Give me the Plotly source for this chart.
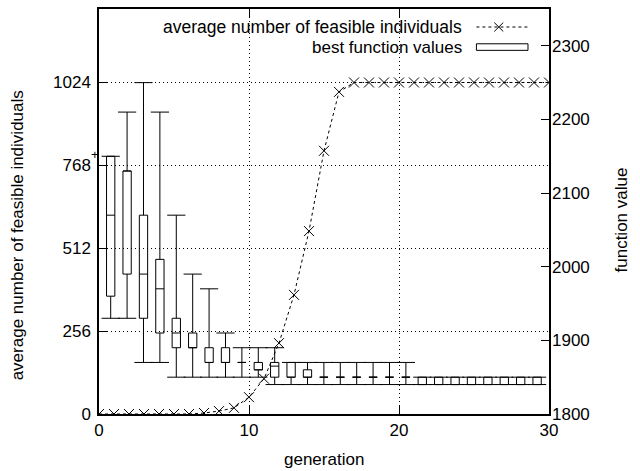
import plotly.graph_objects as go

# ---------------- data ----------------
generations = list(range(31))
avg_feasible = [0, 0, 0, 0, 0, 0, 0, 3, 9, 19, 52, 109, 219, 368, 565, 813, 995,
                1024, 1024, 1024, 1024, 1024, 1024, 1024, 1024, 1024, 1024, 1024, 1024, 1024, 1024]

box_index = list(range(1, 28))
whisker_high = [2150, 2210, 2250, 2210, 2070, 1990, 1970, 1910, 1890, 1890, 1890, 1870, 1870,
                1870, 1870, 1870, 1870, 1870, 1870,
                1850, 1850, 1850, 1850, 1850, 1850, 1850, 1850]
box_high = [2150, 2130, 2070, 2010, 1930, 1910, 1890, 1890, 1870, 1870, 1870, 1870, 1860,
            1850, 1850, 1850, 1850, 1850, 1850,
            1850, 1850, 1850, 1850, 1850, 1850, 1850, 1850]
box_median = [2070, 2130, 1990, 1970, 1910, 1890, 1870, 1870, 1870, 1860, 1865, 1850, 1850,
              1850, 1850, 1850, 1850, 1850, 1850,
              1840, 1840, 1840, 1840, 1840, 1840, 1840, 1840]
box_low = [1960, 1990, 1930, 1910, 1890, 1890, 1870, 1870, 1870, 1860, 1850, 1850, 1850,
           1850, 1850, 1850, 1850, 1850, 1850,
           1840, 1840, 1840, 1840, 1840, 1840, 1840, 1840]
whisker_low = [1930, 1930, 1870, 1870, 1850, 1850, 1850, 1850, 1850, 1850, 1840, 1840, 1840,
               1840, 1840, 1840, 1840, 1840, 1840,
               1840, 1840, 1840, 1840, 1840, 1840, 1840, 1840]

x_ticks = [0, 10, 20, 30]
y_ticks = [0, 256, 512, 768, 1024]
y2_ticks = [1800, 1900, 2000, 2100, 2200, 2300]

# ---------------- style ----------------
FONT = "Liberation Sans, Arial, Helvetica, sans-serif"
BOX_HALF = 0.253
CAP_HALF = 0.555

# build candlestick geometry (data units of x2/y2)
box_x, box_y = [], []
for j, hi, lo in zip(box_index, box_high, box_low):
    box_x += [j - BOX_HALF, j + BOX_HALF, j + BOX_HALF, j - BOX_HALF, j - BOX_HALF, None]
    box_y += [lo, lo, hi, hi, lo, None]

wh_x, wh_y = [], []
for j, wmax, hi, lo, wmin in zip(box_index, whisker_high, box_high, box_low, whisker_low):
    wh_x += [j, j, None, j - CAP_HALF, j + CAP_HALF, None]
    wh_y += [hi, wmax, None, wmax, wmax, None]
    wh_x += [j, j, None, j - CAP_HALF, j + CAP_HALF, None]
    wh_y += [lo, wmin, None, wmin, wmin, None]

med_x, med_y = [], []
for j, m in zip(box_index, box_median):
    med_x += [j - BOX_HALF, j + BOX_HALF, None]
    med_y += [m, m, None]

fig = go.Figure()
fig.add_trace(go.Scatter(
    x=generations, y=avg_feasible, mode="lines+markers",
    name="average number of feasible individuals",
    line=dict(color="black", width=1, dash="3px,3px"),
    marker=dict(symbol="x-thin", size=10, line=dict(color="black", width=1)),
    xaxis="x", yaxis="y"))
fig.add_trace(go.Scatter(x=wh_x, y=wh_y, mode="lines", line=dict(color="black", width=1),
                         xaxis="x2", yaxis="y2", hoverinfo="skip"))
fig.add_trace(go.Scatter(x=box_x, y=box_y, mode="lines", line=dict(color="black", width=1),
                         xaxis="x2", yaxis="y2", name="best function values"))
fig.add_trace(go.Scatter(x=med_x, y=med_y, mode="lines", line=dict(color="black", width=1),
                         xaxis="x2", yaxis="y2", hoverinfo="skip"))

axis_common = dict(ticks="inside", tickcolor="black", tickwidth=1, zeroline=False,
                   tickfont=dict(family=FONT, size=17, color="black"))

fig.update_layout(
    width=640, height=471,
    margin=dict(l=99, r=91, t=7, b=57),
    paper_bgcolor="white", plot_bgcolor="white",
    font=dict(family=FONT, size=17, color="black"),
    showlegend=False,
    xaxis=dict(range=[0, 30], tickvals=x_ticks, ticklen=9, showline=True, linecolor="black",
               linewidth=1.5, mirror="ticks", showgrid=True, gridcolor="black", gridwidth=1,
               griddash="1px,3px", **axis_common),
    xaxis2=dict(overlaying="x", range=[0.287, 27.726], visible=False),
    yaxis=dict(range=[0, 1251], tickvals=y_ticks, ticklen=9, showline=True, linecolor="black",
               linewidth=1.5, mirror=True, showgrid=True, gridcolor="black", gridwidth=1,
               griddash="1px,3px", ticklabelstandoff=3, **axis_common),
    yaxis2=dict(overlaying="y", side="right", range=[1800, 2350], tickvals=y2_ticks,
                ticklen=8, showgrid=False, showline=False, ticklabelstandoff=2, **axis_common),
)

# axis titles
fig.add_annotation(text="generation", xref="paper", yref="paper", x=0.5, y=-0.112,
                   xanchor="center", yanchor="middle", showarrow=False,
                   font=dict(family=FONT, size=17))
fig.add_annotation(text="average number of feasible individuals", xref="paper", yref="paper",
                   x=-0.181, y=0.44, textangle=-90, xanchor="center", yanchor="middle",
                   showarrow=False, font=dict(family=FONT, size=17))
fig.add_annotation(text="function value", xref="paper", yref="paper",
                   x=1.162, y=0.48, textangle=-90, xanchor="center", yanchor="middle",
                   showarrow=False, font=dict(family=FONT, size=17))
fig.add_annotation(text="+", xref="paper", yref="paper", x=-0.0084, y=0.64,
                   xanchor="center", yanchor="middle", showarrow=False,
                   font=dict(family=FONT, size=13))

# legend (gnuplot style: text right-aligned, sample on the right)
L1, L2 = 0.9555, 0.9060
fig.add_annotation(text="average number of feasible individuals", xref="paper", yref="paper",
                   x=0.811, y=L1, xanchor="right", yanchor="middle", showarrow=False,
                   font=dict(family=FONT, size=17.5))
fig.add_annotation(text="best function values", xref="paper", yref="paper",
                   x=0.811, y=L2, xanchor="right", yanchor="middle", showarrow=False,
                   font=dict(family=FONT, size=17))
fig.add_shape(type="line", xref="paper", yref="paper", x0=0.8387, x1=0.9533, y0=L1, y1=L1,
              line=dict(color="black", width=1, dash="3px,3px"))
mx, dx, dy = 0.8884, 0.0100, 0.0110
fig.add_shape(type="line", xref="paper", yref="paper", x0=mx - dx, x1=mx + dx, y0=L1 - dy, y1=L1 + dy,
              line=dict(color="black", width=1))
fig.add_shape(type="line", xref="paper", yref="paper", x0=mx - dx, x1=mx + dx, y0=L1 + dy, y1=L1 - dy,
              line=dict(color="black", width=1))
fig.add_shape(type="rect", xref="paper", yref="paper", x0=0.8387, x1=0.9533, y0=L2 - 0.0081, y1=L2 + 0.0081,
              line=dict(color="black", width=1), fillcolor="rgba(0,0,0,0)")

fig.write_html("out.html")
